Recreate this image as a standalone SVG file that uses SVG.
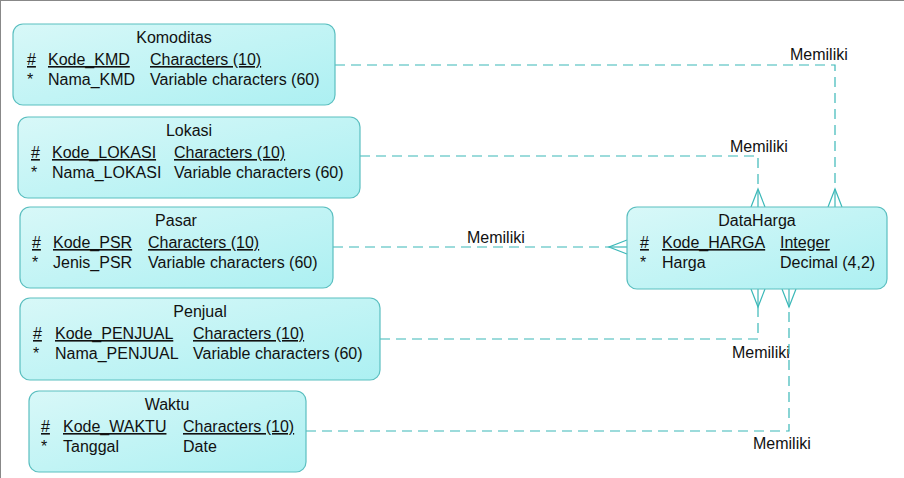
<svg xmlns="http://www.w3.org/2000/svg" width="904" height="478" viewBox="0 0 904 478">
<defs>
<linearGradient id="g" x1="0" y1="0" x2="1" y2="1">
<stop offset="0" stop-color="#d8f8f8"/>
<stop offset="1" stop-color="#acf0f2"/>
</linearGradient>
</defs>
<style>
.box{fill:url(#g);stroke:#5bbfc0;stroke-width:1.2}
text{font-family:"Liberation Sans",Arial,sans-serif;font-size:16px;fill:#111}
.t{text-anchor:middle}
.u{text-decoration:underline}
.c{fill:none;stroke:#3bb8b8;stroke-width:1.2;stroke-dasharray:10 6}
.f{fill:none;stroke:#3bb8b8;stroke-width:1.2}
</style>
<rect width="904" height="478" fill="#fff"/>
<line x1="0" y1="0.5" x2="904" y2="0.5" stroke="#888" stroke-width="1"/>
<line x1="0.5" y1="0" x2="0.5" y2="478" stroke="#888" stroke-width="1"/>
<g id="connectors">
<polyline class="c" points="335,65 835,65 835,190"/>
<polyline class="f" points="835,190 835,207"/>
<polyline class="f" points="828,207 835,189 842,207"/>
<text x="790" y="60">Memiliki</text>
<polyline class="c" points="360,156 758,156 758,190"/>
<polyline class="f" points="758,190 758,207"/>
<polyline class="f" points="751,207 758,189 765,207"/>
<text x="730" y="152">Memiliki</text>
<polyline class="c" points="333,247 609,247"/>
<polyline class="f" points="609,247 627,247"/>
<polyline class="f" points="627,240 609,247 627,254"/>
<text x="467" y="243">Memiliki</text>
<polyline class="c" points="380,339 758,339 758,307"/>
<polyline class="f" points="758,307 758,289"/>
<polyline class="f" points="751,289 758,307 765,289"/>
<text x="732" y="358">Memiliki</text>
<polyline class="c" points="306,431 789,431 789,307"/>
<polyline class="f" points="789,307 789,289"/>
<polyline class="f" points="782,289 789,307 796,289"/>
<text x="753" y="449">Memiliki</text>
</g>
<g id="Komoditas">
<rect class="box" x="13" y="24" width="322" height="81" rx="10"/>
<text class="t" x="174" y="43">Komoditas</text>
<text class="u" x="27" y="65">#</text>
<text class="u" x="48" y="65">Kode_KMD</text>
<text class="u" x="150" y="65">Characters (10)</text>
<text x="27" y="85">*</text>
<text x="48" y="85">Nama_KMD</text>
<text x="150" y="85">Variable characters (60)</text>
</g>
<g id="Lokasi">
<rect class="box" x="18" y="117" width="342" height="81" rx="10"/>
<text class="t" x="189" y="136">Lokasi</text>
<text class="u" x="31" y="158">#</text>
<text class="u" x="52" y="158">Kode_LOKASI</text>
<text class="u" x="174" y="158">Characters (10)</text>
<text x="31" y="178">*</text>
<text x="52" y="178">Nama_LOKASI</text>
<text x="174" y="178">Variable characters (60)</text>
</g>
<g id="Pasar">
<rect class="box" x="20" y="207" width="313" height="81" rx="10"/>
<text class="t" x="176" y="226">Pasar</text>
<text class="u" x="32" y="248">#</text>
<text class="u" x="53" y="248">Kode_PSR</text>
<text class="u" x="148" y="248">Characters (10)</text>
<text x="32" y="268">*</text>
<text x="53" y="268">Jenis_PSR</text>
<text x="148" y="268">Variable characters (60)</text>
</g>
<g id="Penjual">
<rect class="box" x="20" y="298" width="360" height="82" rx="10"/>
<text class="t" x="200" y="317">Penjual</text>
<text class="u" x="33" y="339">#</text>
<text class="u" x="55" y="339">Kode_PENJUAL</text>
<text class="u" x="193" y="339">Characters (10)</text>
<text x="33" y="359">*</text>
<text x="55" y="359">Nama_PENJUAL</text>
<text x="193" y="359">Variable characters (60)</text>
</g>
<g id="Waktu">
<rect class="box" x="29" y="391" width="277" height="81" rx="10"/>
<text class="t" x="167" y="410">Waktu</text>
<text class="u" x="41" y="432">#</text>
<text class="u" x="63" y="432">Kode_WAKTU</text>
<text class="u" x="183" y="432">Characters (10)</text>
<text x="41" y="452">*</text>
<text x="63" y="452">Tanggal</text>
<text x="183" y="452">Date</text>
</g>
<g id="DataHarga">
<rect class="box" x="627" y="207" width="260" height="82" rx="10"/>
<text class="t" x="757" y="226">DataHarga</text>
<text class="u" x="640" y="248">#</text>
<text class="u" x="662" y="248">Kode_HARGA</text>
<text class="u" x="780" y="248">Integer</text>
<text x="640" y="268">*</text>
<text x="662" y="268">Harga</text>
<text x="780" y="268">Decimal (4,2)</text>
</g>
</svg>
